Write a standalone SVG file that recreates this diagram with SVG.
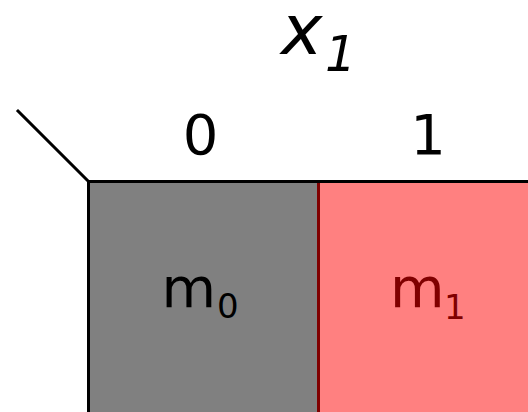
<svg xmlns="http://www.w3.org/2000/svg" width="528" height="412" viewBox="0 0 528 412">
<style>
text{font-family:"DejaVu Sans",sans-serif;}
.lbl{font-size:56px;fill:#000;}
.sub{font-size:34px;}
.ital{font-style:oblique;}
.grid{stroke:#000;stroke-width:3;fill:none;stroke-linecap:square;}
</style>
<rect width="528" height="412" fill="#fff"/>
<g id="cell-m0">
<rect x="88.5" y="181.5" width="230" height="240" fill="#808080" stroke="#000" stroke-width="3"/>
<text class="lbl" x="161.5" y="306.5">m<tspan class="sub" x="217" y="318">0</tspan></text>
</g>
<g id="cell-m1">
<rect x="318.5" y="181.5" width="230" height="240" fill="#ff8080" stroke="#800000" stroke-width="3"/>
<text class="lbl" x="390" y="306.5" style="fill:#800000">m<tspan class="sub" x="444" y="318.5">1</tspan></text>
</g>
<g id="connectors">
<line class="grid" x1="18" y1="111" x2="88.5" y2="181.5"/>
<line class="grid" x1="88.5" y1="181.5" x2="530" y2="181.5"/>
<line class="grid" x1="88.5" y1="181.5" x2="88.5" y2="414"/>
</g>
<g id="header">
<text class="lbl" x="200.5" y="153.5" text-anchor="middle">0</text>
<text class="lbl" x="428" y="153.5" text-anchor="middle">1</text>
<text class="ital" font-size="70" x="281" y="54">x<tspan font-size="49" x="325" y="71">1</tspan></text>
</g>
</svg>
